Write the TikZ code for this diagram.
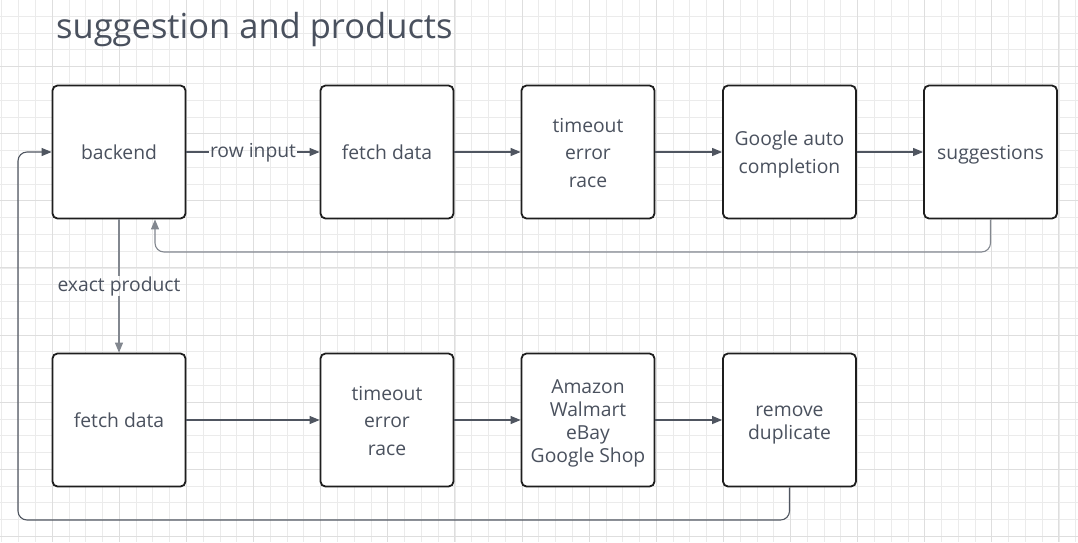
\documentclass[tikz,border=0pt]{standalone}
\usepackage{fontspec}
\setmainfont{Open Sans}
\usetikzlibrary{arrows.meta}
\definecolor{gridminor}{HTML}{EBEBEB}
\definecolor{gridmajor}{HTML}{DEDEDE}
\definecolor{txt}{HTML}{4A515E}
\definecolor{conn}{HTML}{4F5560}
\definecolor{connlight}{HTML}{82878F}
\definecolor{boxline}{HTML}{1E1E1E}
\newcommand{\hs}{\rule{0pt}{21pt}}
\newcommand{\ds}{\rule[-6pt]{0pt}{6pt}}
\tikzset{
  stepbox/.style={draw=boxline, line width=1.8pt, rounded corners=5pt, fill=white,
    minimum width=133pt, minimum height=133pt, inner sep=0pt, text=txt,
    align=center, font=\fontsize{19.3}{27.5}\selectfont},
  tightbox/.style={stepbox, font=\fontsize{19.3}{23}\selectfont},
  conarrow/.style={draw=conn, line width=1.1pt, -{Triangle[length=10pt,width=8pt]}},
  conline/.style={draw=conn, line width=1.1pt},
  retline/.style={draw=connlight, line width=1.1pt, rounded corners=9pt},
  lbl/.style={text=txt, font=\fontsize{19.3}{22}\selectfont, inner sep=1pt,
    text height=14pt, text depth=3pt},
}
\begin{document}
\begin{tikzpicture}[x=1pt,y=-1pt]
\useasboundingbox (0,0) rectangle (1078,542);
\fill[white] (0,0) rectangle (1078,542);
% grid
\foreach \i in {-7,...,57} {
  \draw[gridminor, line width=0.8pt] ({119.3+16.78*\i},0) -- ({119.3+16.78*\i},542);
}
\foreach \j in {-27,...,4} {
  \draw[gridminor, line width=0.8pt] (0,{469.3+16.78*\j}) -- (1078,{469.3+16.78*\j});
}
\foreach \i in {-1,...,14} {
  \draw[gridmajor, line width=1pt] ({119.3+67.12*\i},0) -- ({119.3+67.12*\i},542);
}
\foreach \j in {-6,...,1} {
  \draw[gridmajor, line width=1pt] (0,{469.3+67.12*\j}) -- (1078,{469.3+67.12*\j});
}
% title
\node[anchor=base west, text=txt, font=\fontsize{34.5}{40}\selectfont, inner sep=0pt] (title) at (56,38) {suggestion and products};
% row 1
\node[stepbox] (backend) at (119,152) {\hs backend\ds};
\node[stepbox] (fetchA) at (387,152) {\hs fetch data\ds};
\node[stepbox] (timeA) at (588,152) {\hs timeout\\error\\race\ds};
\node[stepbox] (google) at (789.5,152) {\hs Google auto\\completion\ds};
\node[stepbox] (sugg) at (990.5,152) {\hs suggestions\ds};
% row 2
\node[stepbox] (fetchB) at (119,420) {\hs fetch data\ds};
\node[stepbox] (timeB) at (387,420) {\hs timeout\\error\\race\ds};
\node[tightbox] (shops) at (588,420) {\hs Amazon\\Walmart\\eBay\\Google Shop\ds};
\node[tightbox] (dedup) at (789.5,420) {\hs remove\\duplicate\ds};
% labels
\node[lbl] (rowin) at (253,152) {row input};
\node[lbl] (exact) at (119,286) {exact product};
% connectors row 1
\draw[conline] (backend.east) -- (rowin.west);
\draw[conarrow] (rowin.east) -- (fetchA.west);
\draw[conarrow] (fetchA.east) -- (timeA.west);
\draw[conarrow] (timeA.east) -- (google.west);
\draw[conarrow] (google.east) -- (sugg.west);
% return from suggestions
\coordinate (r1) at (990.5,252);
\coordinate (r2) at (155,252);
\draw[retline, -{Triangle[length=10pt,width=8pt]}] (sugg.south) -- (r1) -- (r2) -- (backend.south -| r2);
% exact product
\draw[draw=connlight, line width=1.1pt] (backend.south) -- (exact.north);
\draw[draw=connlight, line width=1.1pt, -{Triangle[length=10pt,width=8pt]}] (exact.south) -- (fetchB.north);
% connectors row 2
\draw[conarrow] (fetchB.east) -- (timeB.west);
\draw[conarrow] (timeB.east) -- (shops.west);
\draw[conarrow] (shops.east) -- (dedup.west);
% return from remove duplicate
\coordinate (q1) at (789.5,520);
\coordinate (q2) at (18,520);
\coordinate (q3) at (18,152);
\draw[retline, draw=conn, -{Triangle[length=10pt,width=8pt]}] (dedup.south) -- (q1) -- (q2) -- (q3) -- (backend.west);
\end{tikzpicture}
\end{document}
